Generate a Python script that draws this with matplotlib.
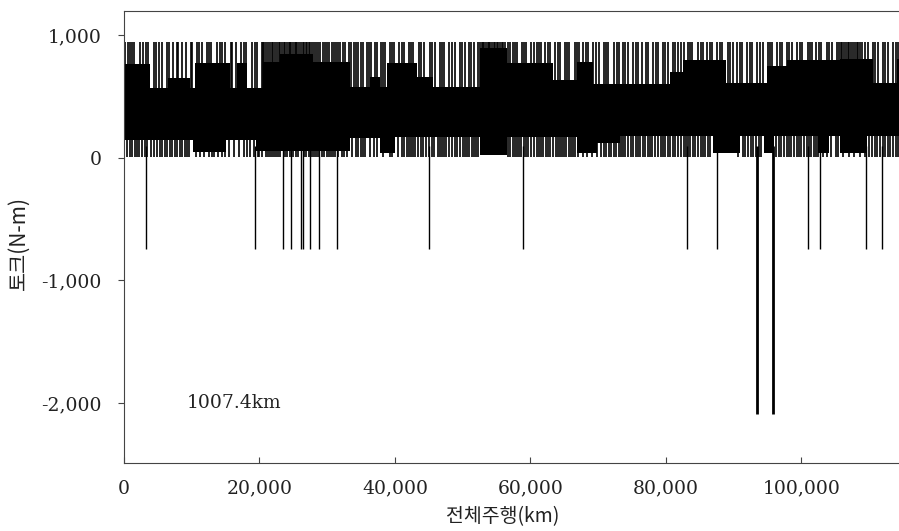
import numpy as np
import matplotlib
matplotlib.use('Agg')
import matplotlib.pyplot as plt

# Torque record over total driving distance
# Solid core of the signal: segment start (km) and upper / lower edge (N-m)
core_hi_km = [0, 3800, 6500, 9700, 10500, 15600, 16700, 18200, 20500, 23000,
              27900, 33400, 36300, 37800, 38800, 43200, 45600, 52500, 56500,
              63300, 66900, 69200, 80600, 82500, 88900, 94900, 97900, 105700,
              110600, 114100]
core_hi = [765, 570, 650, 570, 775, 570, 775, 570, 785, 850,
           780, 580, 660, 580, 775, 660, 580, 900, 775,
           635, 780, 605, 700, 800, 610, 750, 800, 810,
           610, 810]

core_lo_km = [0, 10200, 15100, 19500, 33400, 37800, 40000, 52500, 56500,
              66900, 69800, 73200, 86900, 90900, 94400, 95900, 102500,
              104000, 105700, 109700]
core_lo = [150, 45, 150, 55, 165, 40, 170, 25, 170,
           40, 120, 180, 40, 180, 40, 180, 40,
           180, 40, 180]

# Thin upward peaks (km)
up_km = [200, 900, 1500, 2300, 2800, 3600, 4400, 5100, 5600, 6300, 7200, 7800,
         8600, 9100, 10100, 10800, 11500, 12300, 12900, 13700, 14200, 14900,
         15800, 16600, 17300, 18000, 18900, 19600, 20300, 20700, 21200, 21800,
         22300, 22900, 23300, 23800, 24300, 24700, 25200, 25600, 26100, 26600,
         27000, 27500, 28100, 28700, 29400, 30000, 30700, 31300, 31900, 32600,
         33200, 33900, 34500, 35300, 35900, 36500, 37300, 38000, 38600, 39300,
         39900, 40600, 41400, 42000, 42700, 43500, 44300, 45100, 45900, 46700,
         47300, 48000, 48800, 49600, 50300, 50900, 51600, 52300, 52800, 53200,
         53700, 54100, 54600, 55000, 55500, 56000, 56700, 57400, 58000, 58700,
         59400, 60100, 60900, 61600, 62200, 62900, 63600, 64400, 65100, 65700,
         66500, 67200, 67800, 68500, 69300, 70100, 70800, 71500, 72300, 73000,
         73600, 74400, 75200, 75900, 76500, 77300, 78100, 78800, 79500, 80300,
         81000, 81800, 82600, 83300, 83900, 84700, 85500, 86100, 86800, 87600,
         88300, 89100, 89900, 90500, 91200, 92000, 92700, 93500, 94300, 95000,
         95700, 96400, 97200, 97900, 98600, 99400, 100100, 100900, 101600,
         102200, 102900, 103700, 104500, 105200, 105800, 106300, 106800, 107300,
         107900, 108400, 109000, 109800, 110500, 111300, 112000, 112800, 113500,
         114200]
up_km2 = [550, 1150, 3300, 4700, 6600, 8000, 9900, 11100, 12600, 14500, 16000,
          17700, 19300, 20500, 21000, 21500, 22000, 22600, 23100, 23550, 24050,
          24500, 24950, 25400, 25850, 26350, 26800, 27250, 27750, 28400, 29000,
          29700, 30300, 31000, 31600, 32300, 33500, 34200, 35000, 36200, 37000,
          38300, 39600, 41000, 42300, 43900, 45500, 47000, 48400, 49900, 51200,
          52500, 52950, 53400, 53900, 54350, 54800, 55250, 55750, 56300, 57000,
          57700, 59000, 60500, 61200, 62600, 64000, 65400, 66900, 68200, 69700,
          71200, 72700, 74000, 75600, 77000, 78500, 79900, 81400, 82200, 83600,
          85100, 86500, 88000, 89500, 90900, 92400, 93900, 95300, 96800, 98200,
          99800, 101200, 102600, 104100, 105500, 106050, 106550, 107050, 107600,
          108150, 108700, 109400, 110900, 112400, 113900]
up_top = 945

# Thin downward dips to about zero (km)
down_km = [500, 1200, 1900, 2600, 3100, 4000, 4800, 5300, 6000, 6800, 7500,
           8200, 9000, 9600, 11200, 12600, 13300, 14500, 16300, 17700, 18600,
           19200, 20000, 20900, 21500, 22100, 22700, 23700, 24500, 25400, 26900,
           27800, 28400, 29200, 29900, 30500, 31100, 32200, 32900, 34200, 35000,
           35600, 36900, 39600, 41000, 41800, 42300, 43000, 43900, 44600, 45400,
           46300, 47000, 47600, 48400, 49200, 50000, 50700, 51300, 51900, 57000,
           57700, 58300, 59000, 59700, 60500, 61300, 61900, 62600, 63300, 64000,
           64700, 65300, 66000, 66600, 70400, 71200, 71900, 72600, 73400, 74000,
           74800, 75600, 76200, 76900, 77700, 78400, 79200, 79900, 80600, 81400,
           82200, 82900, 83600, 84300, 85100, 85800, 86500, 91300, 92100, 92900,
           93700, 96300, 97000, 97800, 98500, 99300, 100000, 100800, 101400,
           102100, 104400, 105100, 110000, 110800, 111600, 112400, 113100, 113900]
down_km2 = [850, 1550, 2250, 3450, 4400, 5650, 6400, 7150, 7850, 8600, 9300,
            10600, 11800, 13000, 13900, 14900, 15500, 17000, 18100, 19800,
            20400, 21200, 21800, 22400, 23100, 24100, 24900, 25700, 26600,
            27300, 28100, 28700, 29500, 30200, 30800, 31600, 32500, 33700,
            34600, 35300, 36300, 37300, 38300, 39200, 40400, 41400, 42000,
            42700, 43400, 44200, 45000, 45800, 46600, 47300, 48000, 48800,
            49600, 50300, 51000, 51600, 52200, 56700, 57400, 58000, 58600,
            59300, 60100, 60900, 61600, 62300, 62900, 63700, 64400, 65000,
            65700, 66300, 67000, 67700, 68400, 69100, 69800, 70800, 71600,
            72300, 73000, 73700, 74400, 75200, 75900, 76600, 77300, 78000,
            78800, 79500, 80300, 81000, 81800, 82600, 83300, 84000, 84700,
            85500, 86200, 90600, 91700, 92500, 93300, 94100, 96700, 97400,
            98100, 98900, 99700, 100400, 101100, 101800, 102400, 103200, 103800,
            105400, 106200, 107000, 107800, 108600, 109400, 110400, 111200,
            112000, 112800, 113500, 114300]
down_bottom = 5

# Negative torque spikes (km, N-m)
neg_km = [3300, 19400, 23500, 24700, 26200, 26400, 27500, 28800, 31400, 45000,
          58900, 83100, 87500, 93400, 95800, 101000, 102700, 109500, 111900]
neg_val = [-745, -745, -745, -745, -745, -745, -745, -745, -745, -745,
           -745, -745, -745, -2090, -2090, -745, -745, -745, -745]

x_ticks = [0, 20000, 40000, 60000, 80000, 100000]
x_labels = ['0', '20,000', '40,000', '60,000', '80,000', '100,000']
y_ticks = [1000, 0, -1000, -2000]
y_labels = ['1,000', '0', '-1,000', '-2,000']

x_max = 114400
kr_font = ['Noto Sans CJK KR', 'DejaVu Sans']
num_font = 'DejaVu Serif'
ink = '#222222'

fig = plt.figure(figsize=(8.99, 5.31), dpi=100)
ax = fig.add_axes([124 / 899, 68 / 531, 775 / 899, 452 / 531])

# Solid core band (step segments)
hi_x = np.append(core_hi_km, x_max)
hi_y = np.append(core_hi, core_hi[-1])
lo_x = np.append(core_lo_km, x_max)
lo_y = np.append(core_lo, core_lo[-1])
ax.fill_between(hi_x, 300, hi_y, step='post', color='black', lw=0)
ax.fill_between(lo_x, lo_y, 320, step='post', color='black', lw=0)

# Peaks and dips
ax.vlines(up_km + up_km2, 400, up_top, color='black', lw=1.2)
ax.vlines(down_km + down_km2, down_bottom, 250, color='black', lw=1.2)

# Negative spikes, deep ones drawn thicker
for k, v in zip(neg_km, neg_val):
    ax.vlines(k, v, 100, color='black', lw=2.0 if v < -1500 else 1.0)

ax.text(9300, -2000, '1007.4km', family=num_font, fontsize=13.5,
        va='center', ha='left', color=ink)

ax.set_xlim(0, x_max)
ax.set_ylim(-2490, 1200)
ax.set_xticks(x_ticks)
ax.set_xticklabels(x_labels, family=num_font, fontsize=13.5, color=ink)
ax.set_yticks(y_ticks)
ax.set_yticklabels(y_labels, family=num_font, fontsize=13.5, color=ink)
ax.tick_params(axis='x', direction='in', length=4, width=0.8, pad=12,
               color='#444444')
ax.tick_params(axis='y', direction='out', length=4, width=0.8, pad=12,
               color='#444444')

for side in ['left', 'bottom', 'top']:
    ax.spines[side].set_color('#444444')
    ax.spines[side].set_linewidth(0.8)
ax.spines['right'].set_visible(False)

# Axis titles placed in figure coordinates
fig.text(503 / 899, 1 - 517 / 531, '전체주행(km)', family=kr_font, fontsize=14,
         color=ink, ha='center', va='center')
fig.text(19 / 899, 1 - 243 / 531, '토크(N-m)', family=kr_font, fontsize=15,
         color=ink, ha='center', va='center', rotation=90)

fig.savefig('out.png', dpi=100)
